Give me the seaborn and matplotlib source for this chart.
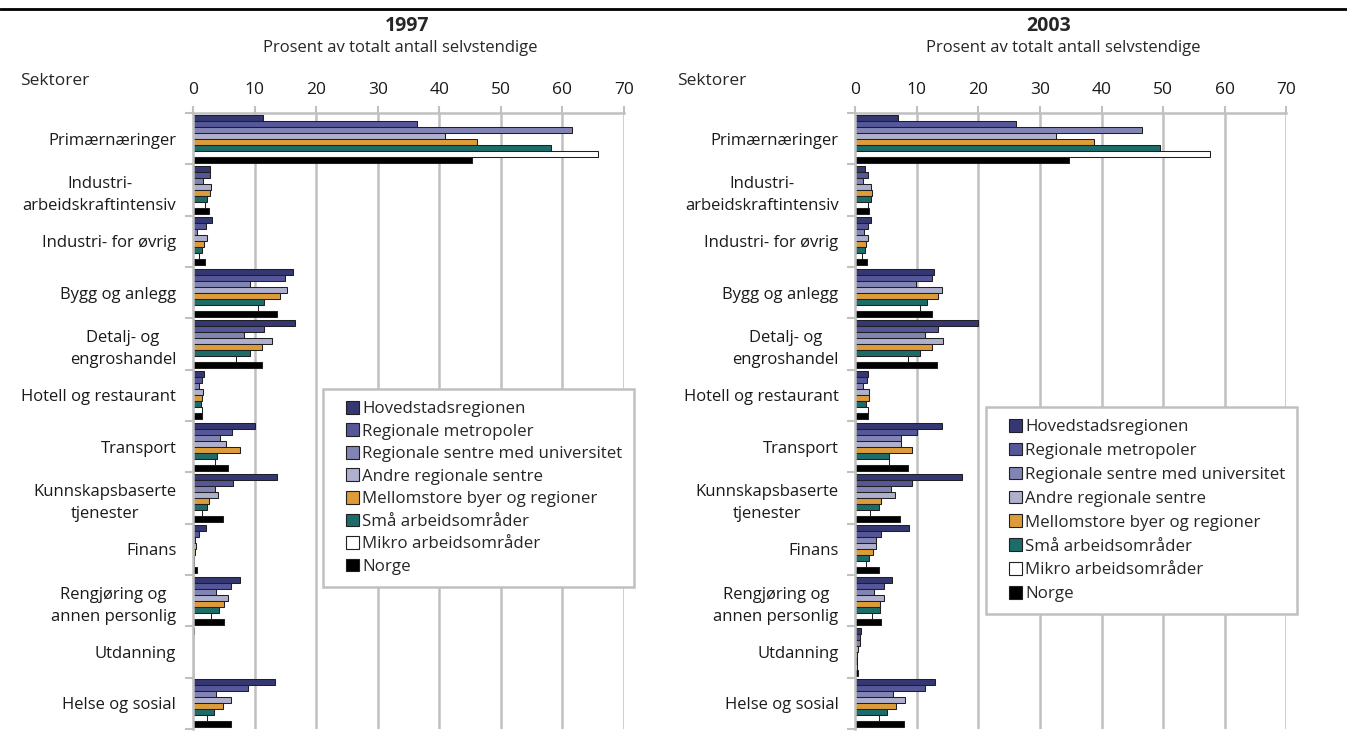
import matplotlib
matplotlib.use("Agg")
import matplotlib.pyplot as plt
import seaborn as sns
import pandas as pd
from matplotlib.lines import Line2D
from matplotlib.patches import Rectangle
from matplotlib.legend_handler import HandlerPatch

sns.set_theme(style="white")
plt.rcParams["font.family"] = ["Open Sans", "DejaVu Sans"]

# Sektorer (ovenfra og ned)
sektorer = ["Primærnæringer", "Industri-\narbeidskraftintensiv", "Industri- for øvrig",
            "Bygg og anlegg", "Detalj- og\nengroshandel", "Hotell og restaurant",
            "Transport", "Kunnskapsbaserte\ntjenester", "Finans",
            "Rengjøring og\nannen personlig", "Utdanning", "Helse og sosial"]

regioner = ["Hovedstadsregionen", "Regionale metropoler", "Regionale sentre med universitet",
            "Andre regionale sentre", "Mellomstore byer og regioner", "Små arbeidsområder",
            "Mikro arbeidsområder", "Norge"]

farger = ["#2B2D7C", "#4A4CA4", "#7A7CBC", "#AAAAD3", "#F7A21E", "#0F7A76", "#FFFFFF", "#000000"]

# 1997, prosent av totalt antall selvstendige
hoved_1997 = [11.3, 2.8, 3.1, 16.2, 16.6, 1.8, 10.1, 13.7, 2.1, 7.7, 0.1, 13.3]
metro_1997 = [36.4, 2.8, 2.1, 15.0, 11.5, 1.5, 6.3, 6.5, 0.9, 6.2, 0.05, 8.9]
univ_1997 = [61.5, 1.6, 0.65, 9.3, 8.3, 1.0, 4.4, 3.5, 0.3, 3.7, 0.05, 3.7]
andre_1997 = [41.0, 3.0, 2.3, 15.3, 12.9, 1.7, 5.3, 4.1, 0.55, 5.7, 0.05, 6.2]
mellom_1997 = [46.2, 2.8, 1.8, 14.2, 11.2, 1.5, 7.6, 2.65, 0.4, 5.0, 0.05, 4.8]
smaa_1997 = [58.2, 2.3, 1.5, 11.5, 9.3, 1.35, 3.9, 2.3, 0.2, 4.2, 0.05, 3.4]
mikro_1997 = [65.7, 2.0, 1.0, 10.5, 7.0, 1.4, 3.6, 1.5, 0.1, 3.0, 0.05, 2.3]
norge_1997 = [45.3, 2.6, 1.9, 13.6, 11.2, 1.5, 5.7, 4.8, 0.65, 5.1, 0.05, 6.1]

# 2003
hoved_2003 = [6.9, 1.6, 2.5, 12.8, 20.0, 2.1, 14.1, 17.3, 8.8, 5.9, 1.0, 12.9]
metro_2003 = [26.1, 2.1, 2.0, 12.5, 13.4, 1.95, 10.1, 9.2, 4.2, 4.7, 0.7, 11.3]
univ_2003 = [46.5, 1.2, 1.35, 9.8, 11.4, 1.3, 7.5, 5.8, 3.3, 3.0, 0.8, 6.2]
andre_2003 = [32.6, 2.5, 2.1, 14.1, 14.2, 2.3, 7.4, 6.4, 3.4, 4.6, 0.5, 8.1]
mellom_2003 = [38.7, 2.65, 1.8, 13.4, 12.5, 2.3, 9.2, 4.1, 2.8, 4.0, 0.3, 6.6]
smaa_2003 = [49.5, 2.5, 1.6, 11.7, 10.5, 1.7, 5.5, 3.8, 2.2, 4.0, 0.2, 5.2]
mikro_2003 = [57.6, 2.1, 1.1, 10.5, 8.5, 2.1, 5.4, 2.4, 1.7, 2.65, 0.2, 3.9]
norge_2003 = [34.7, 2.2, 1.9, 12.4, 13.2, 2.1, 8.5, 7.3, 3.8, 4.2, 0.5, 7.9]

aar_data = {
    "1997": [hoved_1997, metro_1997, univ_1997, andre_1997, mellom_1997, smaa_1997, mikro_1997, norge_1997],
    "2003": [hoved_2003, metro_2003, univ_2003, andre_2003, mellom_2003, smaa_2003, mikro_2003, norge_2003],
}


def kvadrat_til_hoyre(legend, orig_handle, xdescent, ydescent, width, height, fontsize):
    # liten firkant plassert helt til hoyre i handle-feltet
    return Rectangle((-xdescent + width - height, -ydescent), height, height)


W, H = 1347, 731
fig = plt.figure(figsize=(W / 100, H / 100), dpi=100)
grå = "#C0C0C0"

# aar, akse-x0, tittel-x, undertittel-x, sektorer-x, legend-x, legend-y, legend-avstand
oppsett = [("1997", 193, 407, 400, 20, 323, 389, 0.37),
           ("2003", 855.3, 1049, 1063, 677, 986, 407, 0.45)]

for aar, x0, tx, sx, sek_x, leg_x, leg_y, leg_sp in oppsett:
    rows = []
    for reg, vals in zip(regioner, aar_data[aar]):
        for sek, v in zip(sektorer, vals):
            rows.append({"sektor": sek, "region": reg, "verdi": v})
    df = pd.DataFrame(rows)

    ax = fig.add_axes([x0 / W, 2 / H, 431 / W, 616 / H])
    sns.barplot(data=df, y="sektor", x="verdi", hue="region", order=sektorer,
                hue_order=regioner, palette=farger, orient="h", width=0.93, gap=0,
                edgecolor="#202020", linewidth=0.75, ax=ax, legend=True)

    ax.set_xlim(0, 70)
    ax.set_ylim(11.5, -0.5)
    ax.set_xticks(range(0, 71, 10))
    ax.xaxis.tick_top()
    ax.tick_params(axis="x", which="major", length=5, width=1.5, color=grå, pad=6,
                   labelsize=12.5, labelcolor="#1a1a1a")
    ax.grid(axis="x", color=grå, linewidth=1.8)
    ax.set_axisbelow(True)
    ax.set_xlabel("")
    ax.set_ylabel("")
    ax.set_yticks(range(len(sektorer)))
    ax.set_yticklabels(sektorer)
    ax.set_yticks([i - 0.5 for i in range(len(sektorer) + 1)], minor=True)
    ax.tick_params(axis="y", which="major", length=0, pad=12, labelsize=12, labelcolor="#1a1a1a")
    ax.tick_params(axis="y", which="minor", left=True, length=6, width=1.5, color=grå)
    for t in ax.get_yticklabels():
        t.set_multialignment("center")
        t.set_linespacing(1.5)
    for side in ["right", "bottom"]:
        ax.spines[side].set_visible(False)
    for side in ["top", "left"]:
        ax.spines[side].set_color(grå)
        ax.spines[side].set_linewidth(1.8)

    handles, labels = ax.get_legend_handles_labels()
    ax.get_legend().remove()
    leg = ax.legend(handles, labels, loc="upper left", bbox_to_anchor=(leg_x / W, 1 - leg_y / H),
                    bbox_transform=fig.transFigure, frameon=True, fancybox=False, framealpha=1,
                    edgecolor=grå, fontsize=12.2, handlelength=1.4, handleheight=0.78,
                    handletextpad=0.2, labelspacing=leg_sp, borderpad=0.7, borderaxespad=0,
                    handler_map={type(handles[0]): HandlerPatch(patch_func=kvadrat_til_hoyre)})
    leg.get_frame().set_linewidth(1.8)
    for h in leg.legend_handles:
        h.set_edgecolor("#202020")
        h.set_linewidth(0.8)

    fig.text(tx / W, 1 - 26 / H, aar, ha="center", va="center", fontsize=14, fontweight="bold")
    fig.text(sx / W, 1 - 48 / H, "Prosent av totalt antall selvstendige", ha="center",
             va="center", fontsize=12)
    fig.text(sek_x / W, 1 - 81 / H, "Sektorer", ha="left", va="center", fontsize=12.5)

fig.add_artist(Line2D([0, 1], [1 - 8.5 / H, 1 - 8.5 / H], transform=fig.transFigure,
                      color="black", linewidth=2.0))

fig.savefig("out.png", dpi=100)
